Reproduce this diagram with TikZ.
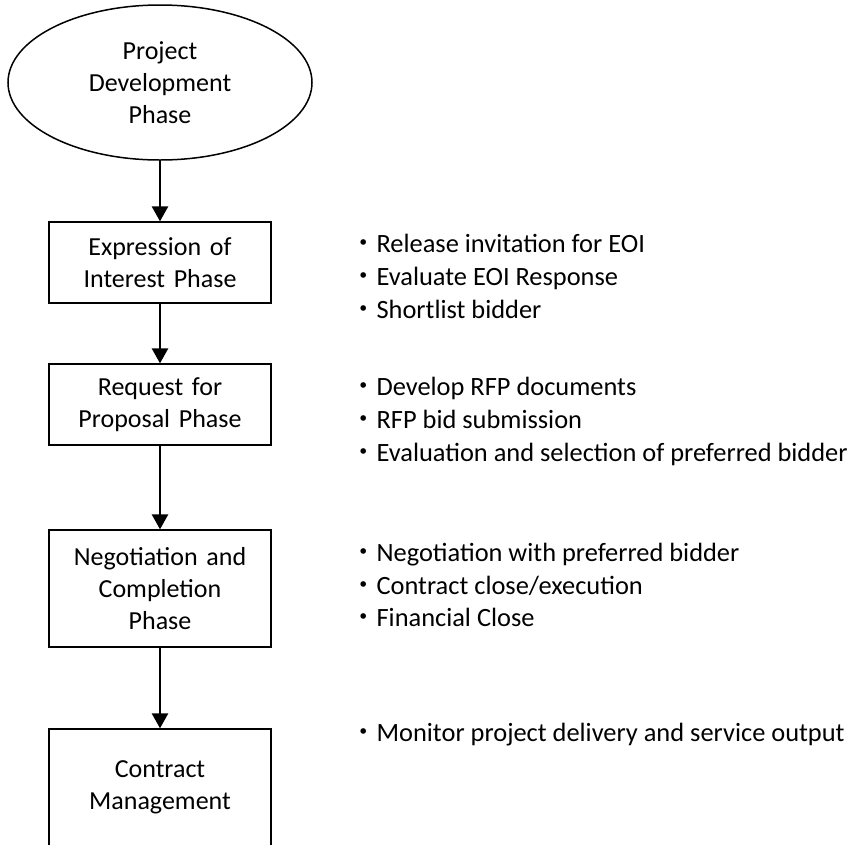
\documentclass[tikz,border=0pt]{standalone}
\usepackage{fontspec}
\setmainfont{Carlito}
\newfontfamily\cjk{Noto Sans CJK JP}
\usetikzlibrary{shapes.geometric,arrows.meta}
\newcommand{\bul}{{\cjk ・}}
\begin{document}
\begin{tikzpicture}[x=1pt,y=-1pt,
  phasebox/.style={draw, line width=1.3pt, rectangle, minimum width=222pt, text width=214pt,
    align=center, inner sep=0pt, font=\fontsize{26}{31.7}\selectfont},
  startnode/.style={draw, ellipse, line width=1.5pt, minimum width=304pt, minimum height=155pt,
    inner sep=0pt, align=center, font=\fontsize{26}{31.7}\selectfont},
  arr/.style={line width=2.6pt, -{Triangle[width=16pt,length=15pt]}},
  item/.style={anchor=base west, inner sep=0pt, font=\fontsize{26.4}{33}\selectfont}]
\useasboundingbox (0,0) rectangle (856,844);
\clip (0,0) rectangle (856,844);

\node[startnode] (e) at (160,82.5) {Project\\Development\\Phase};
\node[phasebox, minimum height=81pt] (b1) at (160,262.5) {Expression of\\Interest Phase};
\node[phasebox, minimum height=81pt] (b2) at (160,404.5) {Request for\\Proposal Phase};
\node[phasebox, minimum height=117pt] (b3) at (160,588.5) {Negotiation and\\Completion\\Phase};
\node[phasebox, minimum height=117pt] (b4) at (160,787.5) {Contract\\Management};

\draw[arr] (e) -- (b1);
\draw[arr] (b1) -- (b2);
\draw[arr] (b2) -- (b3);
\draw[arr] (b3) -- (b4);

\node[item] (t11) at (350,252) {\bul Release invitation for EOI};
\node[item] (t12) at (350,285) {\bul Evaluate EOI Response};
\node[item] (t13) at (350,318) {\bul Shortlist bidder};
\node[item] (t21) at (350,395.5) {\bul Develop RFP documents};
\node[item] (t22) at (350,428.5) {\bul RFP bid submission};
\node[item] (t23) at (350,461.5) {\bul Evaluation and selection of preferred bidder};
\node[item] (t31) at (350,561.5) {\bul Negotiation with preferred bidder};
\node[item] (t32) at (350,594) {\bul Contract close/execution};
\node[item] (t33) at (350,626.5) {\bul Financial Close};
\node[item] (t41) at (350,741.5) {\bul Monitor project delivery and service output};
\end{tikzpicture}
\end{document}
